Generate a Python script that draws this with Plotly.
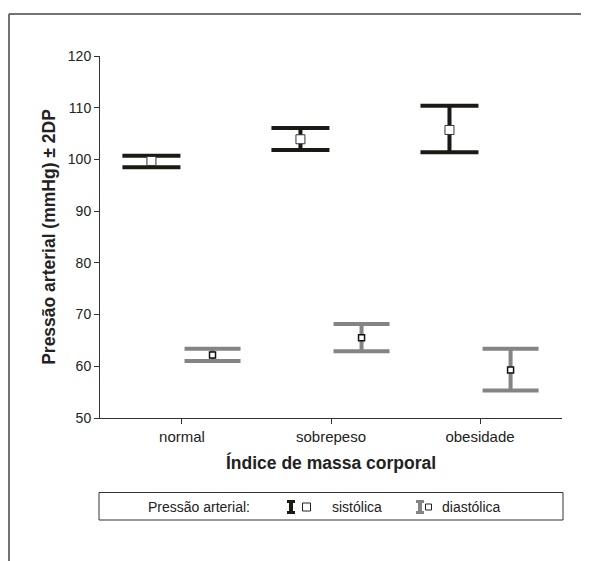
import plotly.graph_objects as go

# ---- data ----
categories = ["normal", "sobrepeso", "obesidade"]
sist_media = [99.7, 103.9, 105.7]
sist_sup = [100.7, 106.1, 110.4]
sist_inf = [98.5, 101.8, 101.4]
diast_media = [62.2, 65.5, 59.3]
diast_sup = [63.4, 68.2, 63.4]
diast_inf = [61.0, 62.9, 55.3]
y_ticks = [50, 60, 70, 80, 90, 100, 110, 120]
legend_title = "Pressão arterial:"
series_names = ["sistólica", "diastólica"]

# ---- style ----
FONT = "Liberation Sans, Arial, sans-serif"
C_SIST = "#1c1814"
C_DIAST = "#848484"
AXC = "#333333"
OFFSET = 0.205

PAGE_OFF = 8  # default body margin of the html page
W, H = 581, 553
ML, MR, MT, MB = 92, 27, 48, 143
PW, PH = W - ML - MR, H - MT - MB


def px(xs):
    # screen pixel x -> paper coordinate
    return (xs - PAGE_OFF - ML) / PW


def py(ys):
    # screen pixel y -> paper coordinate
    return (H - MB - (ys - PAGE_OFF)) / PH


idx = list(range(len(categories)))

fig = go.Figure()

fig.add_trace(go.Scatter(
    x=[i - OFFSET for i in idx], y=sist_media, mode="markers", name=series_names[0],
    marker=dict(symbol="square", size=9, color="white", line=dict(color="#333333", width=1)),
    error_y=dict(type="data", symmetric=False,
                 array=[s - m for s, m in zip(sist_sup, sist_media)],
                 arrayminus=[m - i for m, i in zip(sist_media, sist_inf)],
                 color=C_SIST, thickness=4, width=29),
    showlegend=False, hoverinfo="skip",
))
fig.add_trace(go.Scatter(
    x=[i + OFFSET for i in idx], y=diast_media, mode="markers", name=series_names[1],
    marker=dict(symbol="square", size=6, color="white", line=dict(color="#111111", width=1.5)),
    error_y=dict(type="data", symmetric=False,
                 array=[s - m for s, m in zip(diast_sup, diast_media)],
                 arrayminus=[m - i for m, i in zip(diast_media, diast_inf)],
                 color=C_DIAST, thickness=4, width=28),
    showlegend=False, hoverinfo="skip",
))

shapes = []
# outer frame (top and left only)
shapes.append(dict(type="line", xref="paper", yref="paper", x0=px(9), x1=px(589), y0=py(14), y1=py(14),
                   line=dict(color="#444444", width=1.5)))
shapes.append(dict(type="line", xref="paper", yref="paper", x0=px(9), x1=px(9), y0=py(14), y1=py(561),
                   line=dict(color="#444444", width=1.5)))
# legend box
shapes.append(dict(type="rect", xref="paper", yref="paper", x0=px(99), x1=px(563), y0=py(492.5), y1=py(520),
                   line=dict(color="#333333", width=1), fillcolor="rgba(0,0,0,0)"))


def ibeam(x0, color):
    # top bar, stem, bottom bar of the legend error-bar glyph
    out = []
    out.append(dict(type="rect", xref="paper", yref="paper", x0=px(x0), x1=px(x0 + 8), y0=py(500), y1=py(503),
                    line=dict(width=0), fillcolor=color))
    out.append(dict(type="rect", xref="paper", yref="paper", x0=px(x0 + 2), x1=px(x0 + 6), y0=py(500), y1=py(514),
                    line=dict(width=0), fillcolor=color))
    out.append(dict(type="rect", xref="paper", yref="paper", x0=px(x0), x1=px(x0 + 8), y0=py(511), y1=py(514),
                    line=dict(width=0), fillcolor=color))
    return out


shapes += ibeam(287, C_SIST)
shapes.append(dict(type="rect", xref="paper", yref="paper", x0=px(302.5), x1=px(310.5), y0=py(503), y1=py(511),
                   line=dict(color="#222222", width=1), fillcolor="white"))
shapes += ibeam(416, C_DIAST)
shapes.append(dict(type="rect", xref="paper", yref="paper", x0=px(425.5), x1=px(431.5), y0=py(504), y1=py(510),
                   line=dict(color="#222222", width=1), fillcolor="white"))

annotations = [
    dict(text=legend_title, x=px(146), y=py(507), xref="paper", yref="paper",
         xanchor="left", yanchor="middle", showarrow=False, font=dict(family=FONT, size=14, color="#222222")),
    dict(text=series_names[0], x=px(330), y=py(507), xref="paper", yref="paper",
         xanchor="left", yanchor="middle", showarrow=False, font=dict(family=FONT, size=14, color="#222222")),
    dict(text=series_names[1], x=px(440), y=py(507), xref="paper", yref="paper",
         xanchor="left", yanchor="middle", showarrow=False, font=dict(family=FONT, size=14, color="#222222")),
]

fig.update_layout(
    width=W, height=H,
    margin=dict(l=ML, r=MR, t=MT, b=MB, autoexpand=False),
    paper_bgcolor="white", plot_bgcolor="white",
    font=dict(family=FONT, size=14, color="#222222"),
    shapes=shapes, annotations=annotations,
    xaxis=dict(range=[-0.55, len(categories) - 0.45], tickvals=idx, ticktext=categories,
               ticks="outside", ticklen=5, tickcolor=AXC, showline=True, linecolor=AXC, linewidth=1,
               showgrid=False, zeroline=False, tickfont=dict(size=15),
               title=dict(text="<b>Índice de massa corporal</b>", font=dict(size=17.5), standoff=12)),
    yaxis=dict(range=[50, 120], tickvals=y_ticks, ticks="outside", ticklen=5, tickcolor=AXC,
               showline=True, linecolor=AXC, linewidth=1, showgrid=False, zeroline=False,
               tickfont=dict(size=14),
               title=dict(text="<b>Pressão arterial (mmHg) ± 2DP</b>", font=dict(size=17.5), standoff=7)),
)

fig.write_html("out.html")
